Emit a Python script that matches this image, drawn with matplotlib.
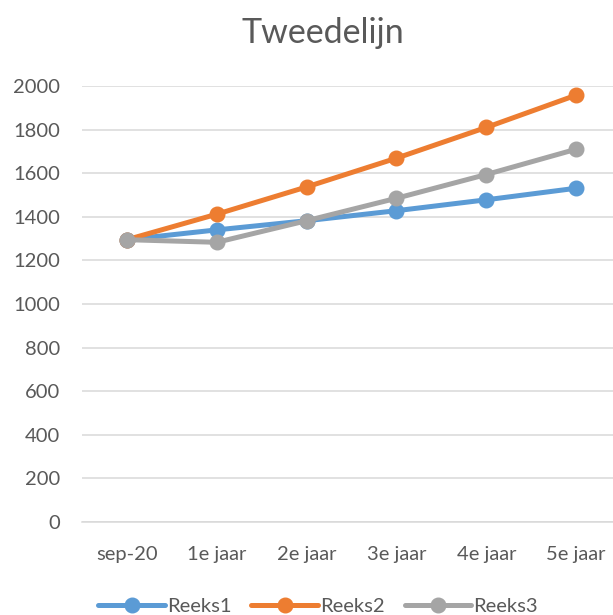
import matplotlib
matplotlib.use("Agg")
import matplotlib.pyplot as plt

categories = ["sep-20", "1e jaar", "2e jaar", "3e jaar", "4e jaar", "5e jaar"]
reeks1 = [1295, 1340, 1382, 1428, 1478, 1531]
reeks2 = [1295, 1412, 1537, 1669, 1810, 1958]
reeks3 = [1295, 1283, 1382, 1485, 1594, 1710]
series_names = ["Reeks1", "Reeks2", "Reeks3"]
colors = ["#5B9BD5", "#ED7D31", "#A5A5A5"]
yticks = [0, 200, 400, 600, 800, 1000, 1200, 1400, 1600, 1800, 2000]

plt.rcParams['font.family'] = ['Lato', 'DejaVu Sans']
text_color = "#595959"

fig = plt.figure(figsize=(6.13, 6.15), dpi=100)
ax = fig.add_axes([82/613, 93/615, (613-82)/613, (522-86)/615])

x = list(range(len(categories)))
for vals, name, c in zip([reeks1, reeks2, reeks3], series_names, colors):
    ax.plot(x, vals, color=c, lw=3.6, marker='o', markersize=10.5, label=name,
            solid_capstyle='round', zorder=3)

ax.set_ylim(0, 2000)
ax.set_xlim(-0.5, 5.41)
ax.set_yticks(yticks)
ax.set_xticks(x)
ax.set_xticklabels(categories)
ax.grid(axis='y', color="#D9D9D9", lw=1.1)
ax.set_axisbelow(True)
for s in ["top", "right", "left"]:
    ax.spines[s].set_visible(False)
ax.spines["bottom"].set_color("#D9D9D9")
ax.spines["bottom"].set_linewidth(1.1)
ax.tick_params(length=0, labelsize=14.5, colors=text_color, pad=17)
ax.tick_params(axis='y', pad=16)

fig.text(323/613, 1 - 33/615, "Tweedelijn", ha='center', va='center',
         fontsize=24.5, color=text_color)

leg = fig.legend(loc='center', bbox_to_anchor=(318/613, 1 - 606/615), ncol=3,
                 frameon=False, fontsize=14.5, handlelength=3.3,
                 handletextpad=0.1, columnspacing=1.0, labelcolor=text_color)

fig.savefig("out.png", dpi=100)
